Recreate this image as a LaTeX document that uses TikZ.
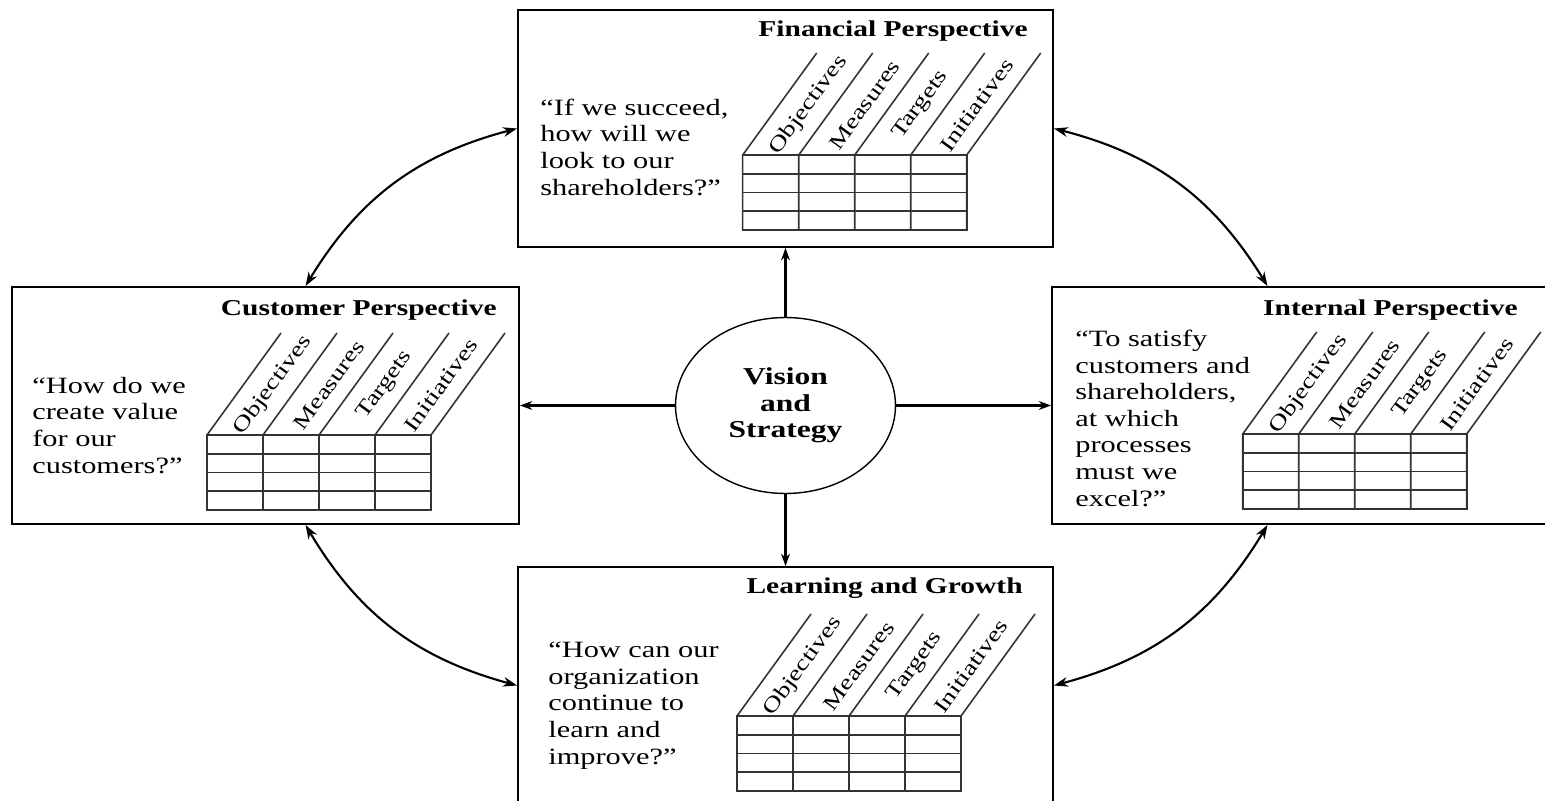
\documentclass[tikz,border=0pt]{standalone}
\usepackage{fontspec}
\setmainfont[FakeStretch=1.3]{Liberation Serif}
\usetikzlibrary{shapes.geometric,arrows.meta,calc}

\newcommand{\bsctable}[3]{%
\begin{scope}[shift={(#1,#2)}]
\draw [tabline] (0,0) rectangle (224,75);
\foreach \r in {1,2,3}
  \draw [tabline] (0,\r*18.75) -- (224,\r*18.75);
\foreach \c in {0,...,4}
  \draw [tabline] (\c*56,75) -- (\c*56,0) -- ++(74,-102);
\foreach \lab [count=\c from 0] in {Objectives,Measures,Targets,Initiatives}
  \node [colhead] (#3-\c) at (\c*56+66,-50) {\lab};
\end{scope}}

\begin{document}
\begin{tikzpicture}[x=0.02cm,y=-0.02cm]
\tikzstyle{every node}+=[inner sep=0pt]
\tikzstyle{persp}=[draw, rectangle, line width=1.1pt, minimum height=4.74cm]
\tikzstyle{tabline}=[black!80, line width=0.9pt]
\tikzstyle{colhead}=[rotate=54, font=\fontsize{12}{12}\selectfont]
\tikzstyle{ptitle}=[anchor=base east, font=\fontsize{12.9}{15}\selectfont\bfseries]
\tikzstyle{question}=[anchor=base west, align=left, font=\fontsize{13.3}{15.1}\selectfont]
\tikzstyle{link}=[line width=1.4pt, -{Stealth[length=7pt,width=5pt]}]
\tikzstyle{swing}=[line width=1.2pt, {Stealth[length=8pt,width=5.5pt]}-{Stealth[length=8pt,width=5.5pt]}, bend left=22]
\useasboundingbox (0,0) rectangle (1545,801);
\clip (0,0) rectangle (1545,801);

% the four perspectives
\node [persp, minimum width=10.7cm] (fin) at (785.5,128.5) {};
\node [persp, minimum width=10.14cm] (cust) at (265.5,405.5) {};
\node [persp, minimum width=10.14cm] (int) at (1305.5,405.5) {};
\node [persp, minimum width=10.7cm] (learn) at (785.5,685.5) {};
\node [draw, ellipse, line width=0.8pt, minimum width=4.4cm, minimum height=3.52cm, align=center,
  font=\fontsize{13.8}{15.1}\selectfont\bfseries] (vs) at (785.5,405.5) {Vision\\and\\Strategy};

% titles
\node [ptitle] (fin-t) at (1028,36.5) {Financial Perspective};
\node [ptitle] (cust-t) at (497,315) {Customer Perspective};
\node [ptitle] (int-t) at (1518,315) {Internal Perspective};
\node [ptitle] (learn-t) at (1023,593) {Learning and Growth};

% questions (placed at the baseline of their last line)
\node [question] (fin-q) at (540,195) {“If we succeed,\\how will we\\look to our\\shareholders?”};
\node [question] (cust-q) at (32,473) {“How do we\\create value\\for our\\customers?”};
\node [question] (int-q) at (1075,506) {“To satisfy\\customers and\\shareholders,\\at which\\processes\\must we\\excel?”};
\node [question] (learn-q) at (548,764) {“How can our\\organization\\continue to\\learn and\\improve?”};

% scorecard tables
\bsctable{742.7}{155}{fin}
\bsctable{207}{435}{cust}
\bsctable{1242.7}{434}{int}
\bsctable{737}{716}{learn}

% arrows
\draw [link] (vs.north) -- (fin.south);
\draw [link] (vs.south) -- (learn.north);
\draw [link] (vs.west) -- (cust.east);
\draw [link] (vs.east) -- (int.west);
\draw [swing] ($(cust.north)+(40,0)$) to (fin.west);
\draw [swing] (fin.east) to ($(int.north)+(-38,0)$);
\draw [swing] ($(int.south)+(-38,0)$) to (learn.east);
\draw [swing] (learn.west) to ($(cust.south)+(40,0)$);
\end{tikzpicture}
\end{document}
